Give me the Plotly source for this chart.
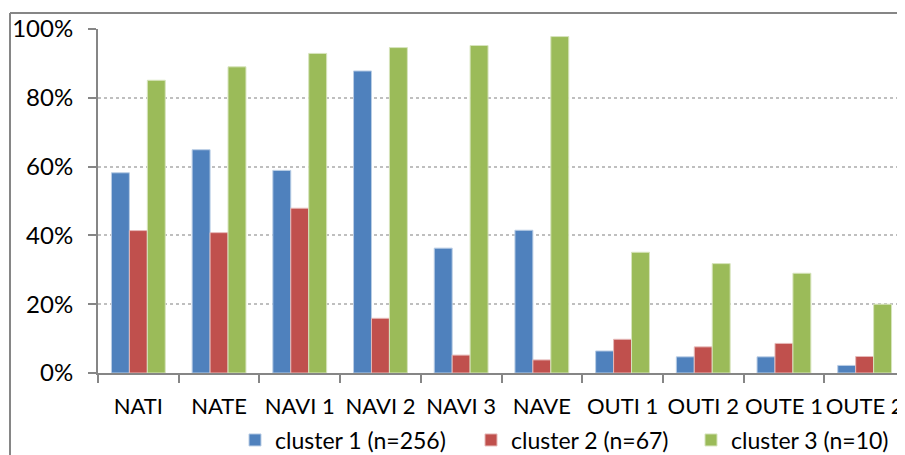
import plotly.graph_objects as go

categories = ["NATI", "NATE", "NAVI 1", "NAVI 2", "NAVI 3", "NAVE",
              "OUTI 1", "OUTI 2", "OUTE 1", "OUTE 2"]
cluster1 = [0.582, 0.649, 0.589, 0.878, 0.363, 0.415, 0.064, 0.047, 0.047, 0.022]
cluster2 = [0.414, 0.408, 0.479, 0.159, 0.052, 0.038, 0.098, 0.076, 0.086, 0.048]
cluster3 = [0.851, 0.890, 0.929, 0.946, 0.952, 0.978, 0.351, 0.318, 0.290, 0.200]
names = ["cluster 1 (n=256)", "cluster 2 (n=67)", "cluster 3 (n=10)"]
colors = ["#4F81BD", "#C0504D", "#9BBB59"]
edges = ["#B9CDE5", "#E6B9B8", "#D7E4BD"]

# page has an 8px body margin, so the figure is drawn 8px smaller
OFF = 8
W, H = 905 - OFF, 455 - OFF
L, R, T, B = 98 - OFF, 0, 29 - OFF, 82
pw, ph = W - L - R, H - T - B
font = "Lato, 'Open Sans', sans-serif"
legend_px = [251, 487, 707]  # left edge of each legend swatch (page px)

fig = go.Figure()
legend_cfg = {}
for i, (vals, name, c, e) in enumerate(zip([cluster1, cluster2, cluster3], names, colors, edges)):
    key = "legend" if i == 0 else f"legend{i + 1}"
    fig.add_trace(go.Bar(x=categories, y=vals, name=name, marker_color=c,
                         marker_line=dict(color=e, width=1), legend=key))
    legend_cfg[key] = dict(x=(legend_px[i] - OFF - 16 - L) / pw, xanchor="left",
                           y=-(440 - OFF - (T + ph)) / ph, yanchor="middle",
                           orientation="h", font=dict(size=23),
                           bgcolor="rgba(0,0,0,0)")

fig.update_layout(
    width=W, height=H,
    margin=dict(l=L, r=R, t=T, b=B, autoexpand=False),
    paper_bgcolor="white", plot_bgcolor="white",
    barmode="group", bargap=0.333, bargroupgap=0,
    font=dict(family=font, size=22, color="black"),
    showlegend=True,
    **legend_cfg,
)
fig.update_yaxes(range=[0, 1], dtick=0.2, tickformat=".0%", automargin=False,
                 showline=True, linecolor="#868686", linewidth=2,
                 ticks="outside", ticklen=8, tickcolor="#868686", tickwidth=2,
                 showgrid=True, gridcolor="#BFBFBF", griddash="dot", gridwidth=1.5,
                 zeroline=False, ticklabelstandoff=10, tickfont=dict(size=24))
fig.update_xaxes(showline=True, linecolor="#868686", linewidth=2, automargin=False,
                 ticks="outside", ticklen=8, tickcolor="#868686", tickwidth=2,
                 tickson="boundaries", showgrid=False, tickangle=0,
                 ticklabelstandoff=13)

# outer chart border (top and left edges visible)
x_left = (10 - OFF - L) / pw
y_top = 1 + (T - (13 - OFF)) / ph
y_bot = -(H - T - ph) / ph - 0.05
fig.add_shape(type="line", xref="paper", yref="paper", x0=x_left, x1=1.05,
              y0=y_top, y1=y_top, line=dict(color="#868686", width=2))
fig.add_shape(type="line", xref="paper", yref="paper", x0=x_left, x1=x_left,
              y0=y_bot, y1=y_top, line=dict(color="#868686", width=2))

fig.write_html("out.html")
